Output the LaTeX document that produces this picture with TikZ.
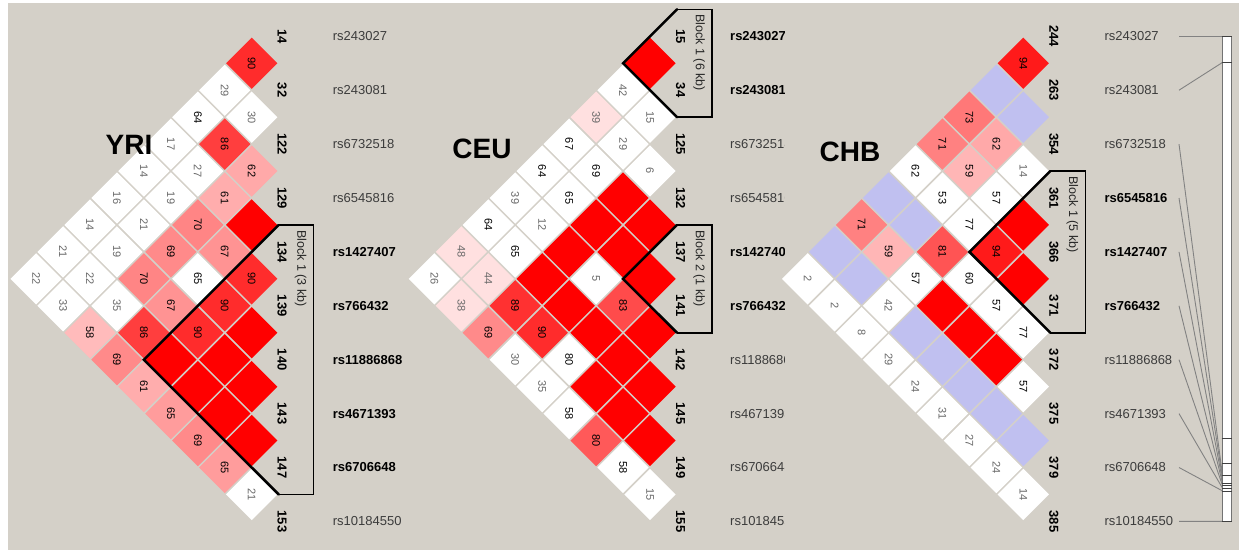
\documentclass[tikz,border=0pt]{standalone}
\usepackage{fontspec}
\setmainfont{Liberation Sans}
\usetikzlibrary{shapes.geometric}

\definecolor{winbg}{RGB}{212,208,200}
\definecolor{ldblue}{RGB}{192,192,240}
\definecolor{ldred}{RGB}{255,0,0}
\definecolor{numgray}{RGB}{105,105,105}
\definecolor{snpgray}{RGB}{60,60,60}
\definecolor{mapline}{RGB}{130,130,130}

\newcommand{\snpr}{\color{snpgray}}
\newcommand{\snpb}{\bfseries}

\begin{document}
\begin{tikzpicture}[x=1pt, y=-1pt,
	ldcell/.style={diamond, aspect=1, minimum width=51.5pt, minimum height=51.5pt, inner sep=0pt, rotate=-90, font=\fontsize{11}{11}\selectfont},
	ldfill/.code 2 args={%
		\if#1r\pgfkeysalso{fill=ldred}\fi
		\if#1b\pgfkeysalso{fill=ldblue}\fi
		\if#1w\pgfkeysalso{fill=white}\ifnum#2<50 \pgfkeysalso{text=numgray}\fi\fi
		\if#1p\pgfmathtruncatemacro\ldg{min(224,4.46*(100-#2))}%
			\edef\ldtmp{\noexpand\pgfkeysalso{fill={rgb,255:red,255;green,\ldg;blue,\ldg}}}\ldtmp
			\ifnum#2<50 \pgfkeysalso{text=numgray}\fi\fi},
	posnum/.style={rotate=-90, inner sep=0pt, font=\fontsize{13}{13}\selectfont\bfseries},
	snplab/.style={anchor=west, inner sep=0pt, font=\fontsize{13}{13}\selectfont},
	poplab/.style={inner sep=0pt, font=\fontsize{28}{28}\selectfont\bfseries},
	blockbox/.style={line width=1.5pt, line join=miter},
	blockedge/.style={line width=2.5pt, line cap=round},
	blocklab/.style={rotate=-90, anchor=west, inner sep=0pt, text=black!85, font=\fontsize{12.5}{12.5}\selectfont}]

		% Draw the background
		\fill[white] (0,0) rectangle (1239,550);
		\fill[winbg] (8,3) rectangle (1239,550);
		\useasboundingbox (0,0) rectangle (1239,550);

		% Draw the YRI panel
		\begin{scope}[shift={(251.7,36.3)}]
			\foreach \ii/\jj/\ty/\vv in {1/2/p/90, 1/3/w/29, 2/3/w/30, 1/4/w/64, 2/4/p/86, 3/4/p/62, 1/5/w/17, 2/5/w/27, 3/5/p/61, 4/5/r/0, 1/6/w/14, 2/6/w/19, 3/6/p/70, 4/6/p/67, 5/6/p/90, 1/7/w/16, 2/7/w/21, 3/7/p/69, 4/7/w/65, 5/7/p/90, 6/7/r/0, 1/8/w/14, 2/8/w/19, 3/8/p/70, 4/8/p/67, 5/8/p/90, 6/8/r/0, 7/8/r/0, 1/9/w/21, 2/9/w/22, 3/9/w/35, 4/9/p/86, 5/9/r/0, 6/9/r/0, 7/9/r/0, 8/9/r/0, 1/10/w/22, 2/10/w/33, 3/10/p/58, 4/10/p/69, 5/10/p/61, 6/10/p/65, 7/10/p/69, 8/10/p/65, 9/10/w/21}
				\node[ldcell, ldfill={\ty}{\vv}] (Y-\ii-\jj) at ({-(\jj-\ii-1)*26.95},{(\ii+\jj-2)*26.95}) {\ifnum\vv>0 \vv\fi};
			\foreach \p [count=\k] in {14,32,122,129,134,139,140,143,147,153}
				\node[posnum] (Yn-\k) at (30.5,{(\k-1)*53.9}) {\p};
			\foreach \s/\f [count=\k] in {rs243027/\snpr, rs243081/\snpr, rs6732518/\snpr, rs6545816/\snpr, rs1427407/\snpb, rs766432/\snpb, rs11886868/\snpb, rs4671393/\snpb, rs6706648/\snpb, rs10184550/\snpr}
				\node[snplab] (Ys-\k) at (81,{(\k-1)*53.9}) {\f\s};
			\node[poplab] (yri) at (-122.7,108.7) {YRI};
			% Block 1
			\draw[blockbox] (27,188.65) -- (62,188.65) -- (62,458.15) -- (27,458.15);
			\draw[blockedge] (27,188.65) -- (-107.8,323.4) -- (27,458.15);
			\node[blocklab] (Yblk) at (49,193.6) {Block 1 (3 kb)};
		\end{scope}

		% Draw the CEU panel
		\begin{scope}[shift={(650,36.3)}]
			\foreach \ii/\jj/\ty/\vv in {1/2/r/0, 1/3/w/42, 2/3/w/15, 1/4/p/39, 2/4/w/29, 3/4/w/6, 1/5/w/67, 2/5/w/69, 3/5/r/0, 4/5/r/0, 1/6/w/64, 2/6/w/65, 3/6/r/0, 4/6/r/0, 5/6/r/0, 1/7/w/39, 2/7/w/12, 3/7/r/0, 4/7/w/5, 5/7/p/83, 6/7/r/0, 1/8/w/64, 2/8/w/65, 3/8/r/0, 4/8/r/0, 5/8/r/0, 6/8/r/0, 7/8/r/0, 1/9/p/48, 2/9/p/44, 3/9/p/89, 4/9/p/90, 5/9/w/80, 6/9/r/0, 7/9/r/0, 8/9/r/0, 1/10/w/26, 2/10/p/38, 3/10/p/69, 4/10/w/30, 5/10/w/35, 6/10/w/58, 7/10/p/80, 8/10/w/58, 9/10/w/15}
				\node[ldcell, ldfill={\ty}{\vv}] (C-\ii-\jj) at ({-(\jj-\ii-1)*26.95},{(\ii+\jj-2)*26.95}) {\ifnum\vv>0 \vv\fi};
			\foreach \p [count=\k] in {15,34,125,132,137,141,142,145,149,155}
				\node[posnum] (Cn-\k) at (30.5,{(\k-1)*53.9}) {\p};
			\begin{scope}
				\clip (70,-30) rectangle (134,500);
				\foreach \s/\f [count=\k] in {rs243027/\snpb, rs243081/\snpb, rs6732518/\snpr, rs6545816/\snpr, rs1427407/\snpb, rs766432/\snpb, rs11886868/\snpr, rs4671393/\snpr, rs6706648/\snpr, rs10184550/\snpr}
					\node[snplab] (Cs-\k) at (80,{(\k-1)*53.9}) {\f\s};
			\end{scope}
			\node[poplab] (ceu) at (-168,113) {CEU};
			% Block 1 and Block 2
			\draw[blockbox] (27,-26.95) -- (62,-26.95) -- (62,80.85) -- (27,80.85);
			\draw[blockedge] (27,-26.95) -- (-26.95,26.95) -- (27,80.85);
			\node[blocklab] (Cblk1) at (49,-22) {Block 1 (6 kb)};
			\draw[blockbox] (27,188.65) -- (62,188.65) -- (62,296.45) -- (27,296.45);
			\draw[blockedge] (27,188.65) -- (-26.95,242.55) -- (27,296.45);
			\node[blocklab] (Cblk2) at (49,193.6) {Block 2 (1 kb)};
		\end{scope}

		% Draw the CHB panel
		\begin{scope}[shift={(1023.3,36.3)}]
			\foreach \ii/\jj/\ty/\vv in {1/2/p/94, 1/3/b/0, 2/3/b/0, 1/4/p/73, 2/4/p/62, 3/4/w/14, 1/5/p/71, 2/5/p/59, 3/5/w/57, 4/5/r/0, 1/6/w/62, 2/6/w/53, 3/6/w/77, 4/6/p/94, 5/6/r/0, 1/7/b/0, 2/7/b/0, 3/7/p/81, 4/7/w/60, 5/7/w/57, 6/7/w/77, 1/8/p/71, 2/8/p/59, 3/8/w/57, 4/8/r/0, 5/8/r/0, 6/8/r/0, 7/8/w/57, 1/9/b/0, 2/9/b/0, 3/9/w/42, 4/9/b/0, 5/9/b/0, 6/9/b/0, 7/9/b/0, 8/9/b/0, 1/10/w/2, 2/10/w/2, 3/10/w/8, 4/10/w/29, 5/10/w/24, 6/10/w/31, 7/10/w/27, 8/10/w/24, 9/10/w/14}
				\node[ldcell, ldfill={\ty}{\vv}] (H-\ii-\jj) at ({-(\jj-\ii-1)*26.95},{(\ii+\jj-2)*26.95}) {\ifnum\vv>0 \vv\fi};
			\foreach \p [count=\k] in {244,263,354,361,366,371,372,375,379,385}
				\node[posnum] (Hn-\k) at (30.5,{(\k-1)*53.9}) {\p};
			\foreach \s/\f [count=\k] in {rs243027/\snpr, rs243081/\snpr, rs6732518/\snpr, rs6545816/\snpb, rs1427407/\snpb, rs766432/\snpb, rs11886868/\snpr, rs4671393/\snpr, rs6706648/\snpr, rs10184550/\snpr}
				\node[snplab] (Hs-\k) at (81,{(\k-1)*53.9}) {\f\s};
			\node[poplab] (chb) at (-173.3,115.7) {CHB};
			% Block 1
			\draw[blockbox] (27,134.75) -- (62,134.75) -- (62,296.45) -- (27,296.45);
			\draw[blockedge] (27,134.75) -- (-53.9,215.6) -- (27,296.45);
			\node[blocklab] (Hblk) at (49,139.7) {Block 1 (5 kb)};
		\end{scope}

		% Draw the marker map
		\foreach \t [count=\k] in {36.3,62.3,477,479.5,482,484,486,488.5,491,521.4} {
			\coordinate (m-\k) at (1179,{36.3+(\k-1)*53.9});
			\coordinate (t-\k) at (1222.7,\t);
			\draw[mapline, line width=0.9pt] (m-\k) -- (t-\k);
		}
		\draw[black!55, fill=white, line width=0.8pt] (1222.7,36.3) rectangle (1231,521.4);
		\foreach \t in {36.3,62.3,438.3,463.3,475.7,483.3,485,488.3,491,521.4}
			\draw[black!75, line width=1pt] (1221.7,\t) -- (1232,\t);

	\end{tikzpicture}
\end{document}
